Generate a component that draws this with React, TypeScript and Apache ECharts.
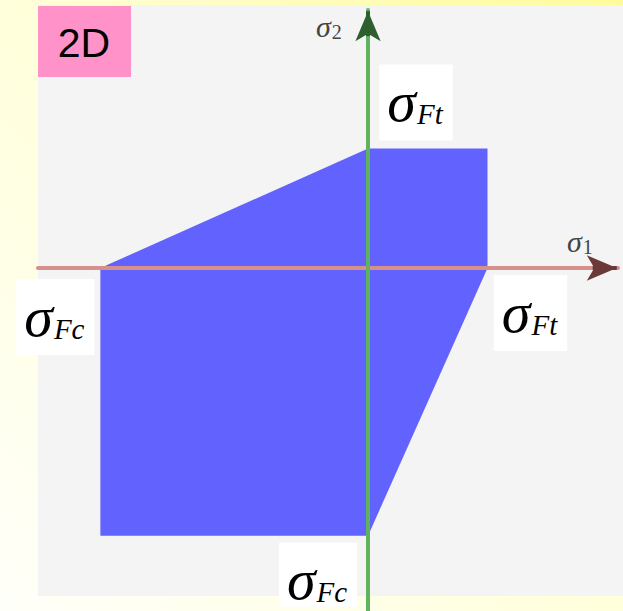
import React, { useEffect, useRef } from "react";
import * as echarts from "echarts";

// Uniaxial strengths (tension / compression), in units of σFt
const sigmaFt = 1;
const sigmaFc = 2.24;

// Failure envelope vertices in the (σ1, σ2) plane
const envelopeS1 = [-sigmaFc, 0, sigmaFt, sigmaFt, 0, -sigmaFc];
const envelopeS2 = [0, sigmaFt, sigmaFt, 0, -sigmaFc, -sigmaFc];

// Strength annotations: subscript and anchor on the axes
const strengthSubs = ["Ft", "Ft", "Fc", "Fc"];
const strengthS1 = [0, sigmaFt, -sigmaFc, 0];
const strengthS2 = [sigmaFt, 0, 0, -sigmaFc];

const axisSubs = ["1", "2"];
const panelTitle = "2D";

// Visible stress range of the plot
const s1Min = -2.762;
const s1Max = 2.092;
const s2Min = -2.87;
const s2Max = 2.159;

const W = 623;
const H = 611;

export default function App() {
  const ref = useRef<HTMLDivElement>(null);

  useEffect(() => {
    if (!ref.current) return;
    const chart = echarts.init(ref.current, null, { renderer: "svg" });

    const labelOffsets = [
      [48, -46],
      [43, 45],
      [-45, 49],
      [-50, 39],
    ];
    const labelPadding = [
      [10, 10, 12, 8],
      [10, 10, 12, 8],
      [10, 10, 12, 8],
      [10, 10, 0, 8],
    ];
    const serif = "'Liberation Serif', 'Times New Roman', serif";
    const axisNameRich = {
      s: { font: "italic 30px " + serif, fill: "#444" },
      d: { font: "20px " + serif, fill: "#444", verticalAlign: "bottom", padding: [12, 0, 0, 1] },
    };

    const option: any = {
      animation: false,
      backgroundColor: new echarts.graphic.LinearGradient(1, 0, 0, 1, [
        { offset: 0, color: "#fffb9c" },
        { offset: 0.5, color: "#ffffdb" },
        { offset: 1, color: "#fffffa" },
      ]),
      grid: { left: 38, top: 10, width: 618 - 38, height: H - 10 },
      xAxis: {
        type: "value",
        min: s1Min,
        max: s1Max,
        splitLine: { show: false },
        axisTick: { show: false },
        axisLabel: { show: false },
        axisLine: { onZero: true, lineStyle: { color: "#d4908a", width: 4 } },
        z: 3,
      },
      yAxis: {
        type: "value",
        min: s2Min,
        max: s2Max,
        splitLine: { show: false },
        axisTick: { show: false },
        axisLabel: { show: false },
        axisLine: { onZero: true, lineStyle: { color: "#5fb35f", width: 4 } },
        z: 4,
      },
      graphic: [
        {
          type: "rect",
          z: -10,
          shape: { x: 38, y: 5, width: W - 38, height: 591 },
          style: { fill: "#f4f4f4" },
        },
        {
          type: "rect",
          z: 10,
          shape: { x: 38, y: 6, width: 93, height: 71 },
          style: { fill: "#ff93c9" },
        },
        {
          type: "text",
          z: 11,
          x: 84,
          y: 43,
          style: {
            text: panelTitle,
            font: "41px 'Liberation Sans', Arial, sans-serif",
            fill: "#000",
            align: "center",
            verticalAlign: "middle",
          },
        },
        {
          type: "text",
          z: 11,
          x: 567,
          y: 241,
          style: {
            text: "{s|σ}{d|" + axisSubs[0] + "}",
            verticalAlign: "middle",
            rich: axisNameRich,
          },
        },
        {
          type: "text",
          z: 11,
          x: 316,
          y: 26,
          style: {
            text: "{s|σ}{d|" + axisSubs[1] + "}",
            verticalAlign: "middle",
            rich: axisNameRich,
          },
        },
      ],
      series: [
        {
          type: "custom",
          z: 2,
          data: [0],
          renderItem: (_params: any, api: any) => {
            const points = envelopeS1.map((s1, i) => api.coord([s1, envelopeS2[i]]));
            return {
              type: "polygon",
              shape: { points },
              style: { fill: "#6262ff" },
            };
          },
        },
        {
          type: "scatter",
          z: 6,
          symbolSize: 0,
          data: strengthSubs.map((sub, i) => ({
            value: [strengthS1[i], strengthS2[i]],
            label: {
              show: true,
              position: "inside",
              offset: labelOffsets[i],
              formatter: "{s|σ}{t|" + sub + "}",
              backgroundColor: "#ffffff",
              color: "#000",
              textBorderWidth: 0,
              opacity: 1,
              padding: labelPadding[i],
              rich: {
                s: {
                  fontFamily: serif,
                  fontStyle: "italic",
                  fontSize: 58,
                  lineHeight: 54,
                  color: "#000",
                  textBorderWidth: 0,
                },
                t: {
                  fontFamily: serif,
                  fontStyle: "italic",
                  fontSize: 29,
                  lineHeight: 29,
                  color: "#000",
                  textBorderWidth: 0,
                  verticalAlign: "bottom",
                  padding: [20, 0, 0, 1],
                },
              },
            },
          })),
          markLine: {
            silent: true,
            symbol: ["none", "arrow"],
            symbolSize: [19, 30],
            label: { show: false },
            data: [
              [
                { coord: [1.88, 0], lineStyle: { color: "#6b3a38", width: 4, type: "solid" } },
                { coord: [s1Max - 0.01, 0] },
              ],
              [
                { coord: [0, 1.94], lineStyle: { color: "#2f5f2f", width: 4, type: "solid" } },
                { coord: [0, s2Max - 0.01] },
              ],
            ],
          },
        },
      ],
    };

    chart.setOption(option);
    return () => chart.dispose();
  }, []);

  return (
    <div
      ref={ref}
      style={{ position: "fixed", left: 0, top: 0, width: W, height: H }}
    />
  );
}
